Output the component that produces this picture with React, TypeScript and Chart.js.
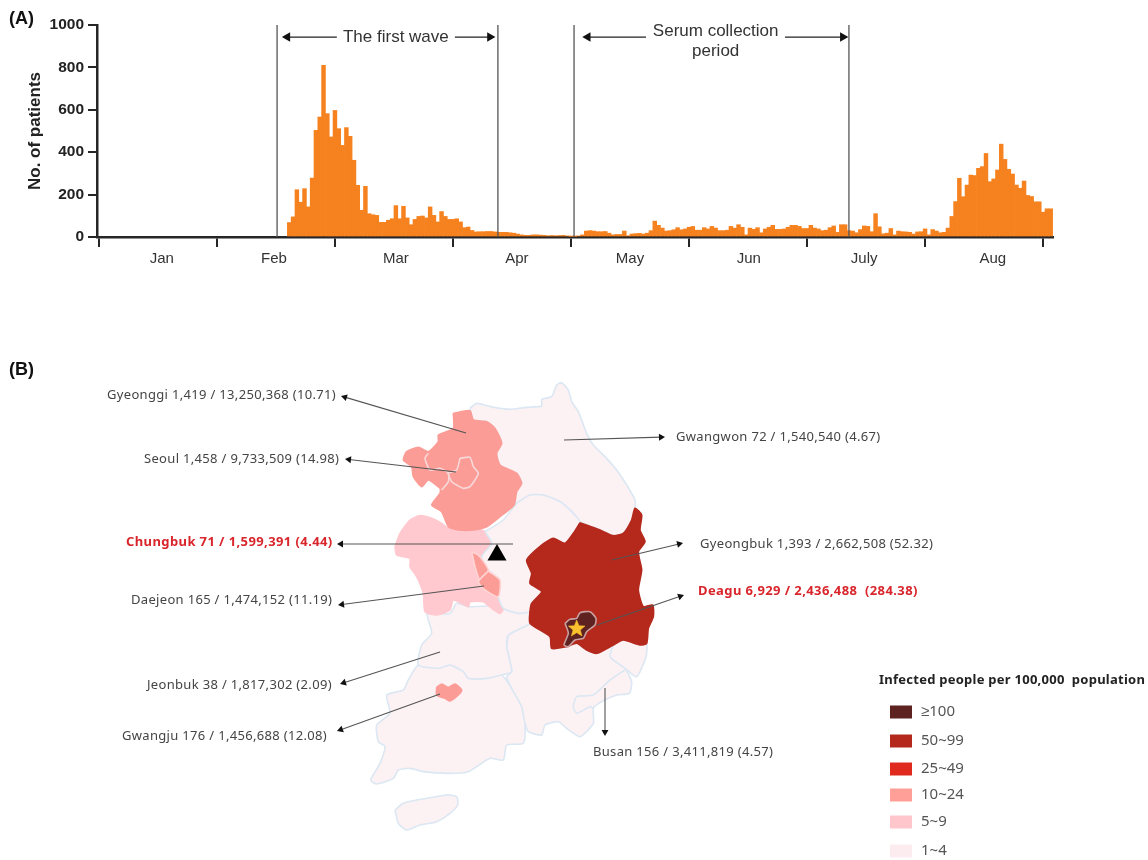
import React, { useEffect, useRef } from "react";
import { Chart, registerables } from "chart.js";

Chart.register(...registerables);

// ---------- Panel A data ----------
const firstCaseDay = 50;
const dailyPatients = [
  68, 95, 223, 164, 228, 142, 278, 503, 566, 810, 582, 472, 597, 511, 432, 516, 475, 362, 244, 126, 239, 110, 105, 102, 69,
  69, 79, 86, 148, 86, 145, 90, 58, 83, 97, 99, 90, 142, 102, 71, 120, 97, 83, 83, 86, 71, 44, 47, 31, 24,
  25, 25, 26, 26, 24, 22, 22, 22, 20, 18, 14, 10, 8, 8, 10, 10, 9, 8, 6, 7, 6, 7, 8, 5, 3, 3,
  5, 10, 28, 30, 28, 25, 25, 26, 18, 10, 12, 12, 28, 6, 14, 16, 17, 14, 18, 30,
  75, 55, 42, 28, 30, 34, 44, 34, 38, 46, 50, 32, 32, 44, 38, 50, 42, 30, 30, 32,
  50, 42, 58, 46, 10, 42, 36, 44, 20, 38, 46, 55, 36, 36, 38, 46, 55, 55, 50, 40, 40,
  55, 42, 38, 30, 32, 44, 52, 22, 58, 58, 30, 28, 20, 35, 52, 50, 25, 110, 48, 15, 18,
  40, 10, 28, 25, 24, 22, 14, 24, 25, 38, 10, 35, 28, 20, 22, 42,
  97, 167, 277, 190, 245, 292, 290, 324, 332, 394, 261, 274, 316, 438, 366, 319, 297, 245, 230, 264, 196, 191, 166, 166, 117, 133, 133,
];
const monthTickDays = [0, 31, 62, 93, 124, 155, 186, 217, 248];
const monthNames = ["Jan", "Feb", "Mar", "Apr", "May", "Jun", "July", "Aug"];
const monthLabelDays = [16.5, 46, 78, 109.8, 139.5, 170.7, 201, 234.8];
const yTickValues = [0, 200, 400, 600, 800, 1000];
const periodLines = [46.8, 104.8, 124.8, 197];
const periodArrows = [
  [[62.5, 943], [49.5, 943]],
  [[93.5, 943], [102.7, 943]],
  [[143.7, 943], [128.4, 943]],
  [[180.2, 943], [195.4, 943]],
];
const periodTexts: [string, number, number][] = [
  ["The first wave", 78, 940],
  ["Serum collection", 162, 972],
  ["period", 162, 878],
];

// ---------- Panel B data (outlines in survey units) ----------
const gangwon = [[330,115],[350,100],[400,112],[450,118],[500,112],[545,108],[545,88],[575,80],[590,45],[605,38],[625,60],[635,95],[655,125],[680,190],[700,225],[740,265],[770,300],[800,345],[825,390],[825,415],[815,450],[790,490],[760,497],[720,480],[660,455],[635,425],[600,395],[550,375],[510,375],[470,400],[460,370],[485,340],[470,310],[420,285],[410,250],[425,220],[405,175],[380,155],[340,150]];
const gyeonggi = [[280,130],[330,122],[340,150],[380,155],[405,175],[425,220],[410,250],[420,285],[470,310],[485,340],[470,365],[462,405],[420,440],[380,470],[340,480],[295,480],[265,470],[245,425],[215,405],[240,370],[240,355],[205,330],[185,350],[160,320],[155,290],[130,270],[140,245],[175,232],[205,245],[235,215],[235,195],[280,175]];
const seoul = [[300,265],[330,262],[340,290],[355,310],[330,350],[310,355],[290,345],[275,335],[265,310],[290,300]];
const incheonEdge = [[205,250],[195,265],[210,300],[240,295],[265,310],[265,335],[245,360]];
const chungnam = [[105,530],[120,490],[150,450],[180,437],[215,445],[245,460],[265,475],[295,480],[340,475],[375,485],[395,520],[365,560],[385,600],[420,630],[415,680],[430,715],[420,730],[395,715],[370,695],[330,695],[325,710],[280,690],[270,720],[230,735],[195,725],[190,670],[170,620],[150,590],[150,565],[110,555]];
const sejong = [[335,545],[355,555],[385,600],[360,630],[345,590]];
const daejeon = [[385,603],[420,630],[415,680],[375,660],[355,635]];
const chungbuk = [[375,485],[430,450],[470,400],[510,375],[550,375],[600,395],[635,425],[660,455],[640,490],[615,520],[580,505],[545,525],[500,570],[515,610],[510,640],[545,665],[515,700],[510,725],[475,730],[430,715],[415,680],[420,630],[385,600],[365,560],[395,520]];
const gyeongbuk = [[660,458],[720,480],[760,497],[790,490],[815,450],[825,415],[845,435],[840,480],[855,515],[835,545],[845,600],[835,660],[850,710],[878,705],[880,740],[865,775],[860,820],[840,825],[790,810],[760,825],[710,850],[680,840],[650,820],[620,830],[575,835],[570,800],[510,760],[510,725],[515,700],[545,665],[510,640],[515,610],[500,570],[545,525],[580,505],[615,520],[640,490]];
const daegu = [[615,760],[630,748],[650,745],[660,728],[690,725],[708,745],[705,765],[680,785],[670,805],[645,810],[625,830],[612,825],[625,790]];
const daeguStar = [[650,750],[657,767],[675,768],[661,780],[666,798],[650,788],[634,798],[639,780],[625,768],[643,767]];
const jeonbuk = [[200,730],[270,730],[290,700],[325,710],[420,705],[440,700],[510,725],[510,760],[445,795],[440,830],[455,905],[425,915],[380,925],[325,925],[310,905],[270,885],[235,895],[175,885],[185,825],[215,790],[205,750]];
const jeonnam = [[235,895],[270,885],[310,905],[325,925],[380,925],[425,915],[455,955],[485,1010],[495,1060],[490,1120],[440,1125],[430,1170],[390,1165],[325,1205],[265,1210],[190,1205],[150,1195],[115,1200],[100,1225],[50,1242],[32,1230],[60,1180],[75,1130],[55,1115],[50,1065],[90,1030],[80,975],[130,960],[145,930],[175,885]];
const gwangju = [[230,952],[245,942],[265,952],[285,942],[305,960],[295,975],[270,993],[255,985],[230,975]];
const gyeongnam = [[445,795],[510,760],[570,800],[575,835],[620,830],[650,820],[680,840],[710,850],[760,825],[750,860],[795,895],[815,935],[808,970],[770,975],[725,995],[700,1015],[700,1060],[660,1100],[620,1075],[595,1055],[555,1065],[545,1095],[505,1085],[495,1060],[485,1010],[455,955],[440,920],[455,905],[440,830]];
const ulsan = [[760,825],[790,810],[840,825],[860,820],[858,860],[830,920],[795,895],[750,860]];
const busanEdge = [[795,900],[750,930],[700,975],[650,980],[640,1010],[650,1030],[690,1010],[700,1015]];
const jeju = [[105,1320],[130,1300],[170,1290],[200,1285],[260,1275],[290,1280],[293,1305],[270,1330],[230,1355],[180,1365],[140,1380],[115,1360]];

const regionFills = {
  none: "#fcf2f4",
  low: "#ffc9cf",
  mid: "#fc9c96",
  high: "#b5281c",
  top: "#5e2320",
};
const outlineColor = "#dbe7f2";

const regionShapes: [number[][], string, string][] = [
  [jeju, regionFills.none, outlineColor],
  [jeonnam, regionFills.none, outlineColor],
  [gyeongnam, regionFills.none, outlineColor],
  [ulsan, regionFills.none, outlineColor],
  [jeonbuk, regionFills.none, outlineColor],
  [chungnam, regionFills.low, "#ffc9cf"],
  [gangwon, regionFills.none, outlineColor],
  [chungbuk, regionFills.none, outlineColor],
  [gyeonggi, regionFills.mid, regionFills.mid],
  [sejong, regionFills.mid, "#ffd5d5"],
  [daejeon, regionFills.mid, "#ffd5d5"],
  [gwangju, regionFills.mid, regionFills.mid],
  [seoul, regionFills.mid, "#f6d8d8"],
  [gyeongbuk, regionFills.high, regionFills.high],
  [daegu, regionFills.top, "#c9a0a0"],
];
const edgeLines: [number[][], string][] = [
  [incheonEdge, "#f6d8d8"],
  [busanEdge, outlineColor],
];

const leaderLines = [
  [[466, 433], [341, 396]],
  [[456, 472], [345, 459]],
  [[513, 544], [337, 544]],
  [[484, 586], [338, 605]],
  [[440, 652], [340, 684]],
  [[440, 694], [337, 731]],
  [[564, 440], [665, 437]],
  [[612, 560], [683, 543]],
  [[597, 625], [684, 595]],
  [[605, 688], [605, 736]],
];
const regionLabels: [string, number, number, boolean][] = [
  ["Gyeonggi 1,419 / 13,250,368 (10.71)", 107, 395, false],
  ["Seoul 1,458 / 9,733,509 (14.98)", 144, 459, false],
  ["Chungbuk 71 / 1,599,391 (4.44)", 126, 542, true],
  ["Daejeon 165 / 1,474,152 (11.19)", 131, 600, false],
  ["Jeonbuk 38 / 1,817,302 (2.09)", 147, 685, false],
  ["Gwangju 176 / 1,456,688 (12.08)", 122, 736, false],
  ["Gwangwon 72 / 1,540,540 (4.67)", 676, 437, false],
  ["Gyeongbuk 1,393 / 2,662,508 (52.32)", 700, 544, false],
  ["Deagu 6,929 / 2,436,488  (284.38)", 698, 591, true],
  ["Busan 156 / 3,411,819 (4.57)", 593, 752, false],
];
const legendTitle = "Infected people per 100,000  population";
const legendLabels = ["≥100", "50~99", "25~49", "10~24", "5~9", "1~4"];
const legendColors = ["#5e2320", "#b5281c", "#e02a1e", "#ff9f98", "#ffc6cc", "#fcecef"];
const legendRows = [712, 741, 769, 795, 822, 851];
const siteMarker = { x: 497, y: 555 };

const SANS = '"Liberation Sans", Arial, sans-serif';
const NOTO = '"Noto Sans", sans-serif';

const toMap = (pts: number[][]) => pts.map(([a, b]) => ({ x: 360 + a / 3, y: 370 + b / 3 }));
const closed = (pts: number[][]) => [...pts, pts[0]];

export default function App() {
  const topRef = useRef<HTMLCanvasElement>(null);
  const mapRef = useRef<HTMLCanvasElement>(null);

  useEffect(() => {
    document.body.style.margin = "0";
    const dark = "#262626";
    const isMonthTick = (v: number) => monthTickDays.includes(v);

    const periodPlugin = {
      id: "periodText",
      afterDatasetsDraw(chart: any) {
        const { ctx, scales } = chart;
        ctx.save();
        ctx.textBaseline = "middle";
        ctx.textAlign = "center";
        ctx.fillStyle = "#333";
        ctx.font = `17px ${SANS}`;
        periodTexts.forEach(([t, d, v]) => {
          ctx.fillText(t, scales.x.getPixelForValue(d), scales.y.getPixelForValue(v));
        });
        ctx.fillStyle = "#111";
        ctx.textAlign = "left";
        ctx.font = `bold 18px ${SANS}`;
        ctx.fillText("(A)", 9, 19);
        ctx.restore();
      },
    };

    const top = new Chart(topRef.current!, {
      type: "bar",
      data: {
        datasets: [
          {
            type: "bar",
            data: dailyPatients.map((y, i) => ({ x: firstCaseDay + i, y })),
            backgroundColor: "#f5821f",
            borderWidth: 0,
            barPercentage: 1,
            categoryPercentage: 1,
            order: 5,
          } as any,
          ...periodLines.map((d) => ({
            type: "line",
            data: [{ x: d, y: 0 }, { x: d, y: 1000 }],
            borderColor: "#555",
            borderWidth: 1.3,
            pointRadius: 0,
            order: 2,
          })),
          ...periodArrows.map(([a, b]) => ({
            type: "line",
            data: [{ x: a[0], y: a[1] }, { x: b[0], y: b[1] }],
            borderColor: "#222",
            borderWidth: 1.2,
            pointStyle: "triangle",
            pointRadius: [0, 5.5],
            pointBackgroundColor: "#111",
            pointBorderWidth: 0,
            pointRotation: b[0] > a[0] ? 90 : -90,
            order: 1,
          })),
        ] as any,
      },
      options: {
        animation: false,
        responsive: false,
        events: [],
        layout: { autoPadding: false, padding: { left: 0, top: 25, right: 95, bottom: 0 } },
        plugins: { legend: { display: false }, tooltip: { enabled: false } },
        scales: {
          x: {
            type: "linear",
            min: -0.5,
            max: 250.6,
            offset: false,
            border: { color: dark, width: 2.5 },
            grid: {
              offset: false,
              drawOnChartArea: false,
              tickLength: 10,
              lineWidth: 2,
              color: (c: any) => (isMonthTick(c.tick?.value) ? dark : "rgba(0,0,0,0)"),
            },
            afterBuildTicks: (axis: any) => {
              axis.ticks = [...monthTickDays, ...monthLabelDays]
                .sort((a, b) => a - b)
                .map((value) => ({ value }));
            },
            ticks: {
              autoSkip: false,
              maxRotation: 0,
              padding: 3,
              color: "#333",
              font: { family: SANS, size: 15 },
              callback: (v: any) => {
                const i = monthLabelDays.indexOf(v);
                return i >= 0 ? monthNames[i] : "";
              },
            },
            afterFit: (s: any) => {
              s.height = 53;
            },
          },
          y: {
            type: "linear",
            min: 0,
            max: 1000,
            border: { color: dark, width: 2.5 },
            grid: { drawOnChartArea: false, tickLength: 9, lineWidth: 2, color: dark },
            afterBuildTicks: (axis: any) => {
              axis.ticks = yTickValues.map((value) => ({ value }));
            },
            ticks: {
              padding: 4,
              color: "#222",
              font: { family: SANS, size: 15.5, weight: "bold" },
              callback: (v: any) => String(v),
            },
            title: {
              display: true,
              text: "No. of patients",
              color: "#222",
              font: { family: SANS, size: 17, weight: "bold" },
              padding: { top: 25, bottom: 0 },
            },
            afterFit: (s: any) => {
              s.width = 97;
            },
          },
        },
      } as any,
      plugins: [periodPlugin],
    });

    const mapPlugin = {
      id: "mapText",
      afterDatasetsDraw(chart: any) {
        const { ctx, scales } = chart;
        const px = (v: number) => scales.x.getPixelForValue(v);
        const py = (v: number) => scales.y.getPixelForValue(v);
        ctx.save();
        ctx.textBaseline = "middle";
        ctx.textAlign = "left";
        regionLabels.forEach(([t, x, y, hot]) => {
          ctx.font = `${hot ? "bold " : ""}13px ${NOTO}`;
          ctx.letterSpacing = hot ? "0.4px" : "0.32px";
          ctx.fillStyle = hot ? "#d9262c" : "#444";
          ctx.fillText(t, px(x), py(y));
        });
        ctx.letterSpacing = "0.25px";
        ctx.font = `bold 13px ${NOTO}`;
        ctx.fillStyle = "#222";
        ctx.fillText(legendTitle, px(879), py(680));
        ctx.letterSpacing = "0px";
        ctx.font = `15px ${NOTO}`;
        ctx.fillStyle = "#555";
        legendLabels.forEach((t, i) => ctx.fillText(t, px(921), py(legendRows[i])));
        ctx.fillStyle = "#111";
        ctx.font = `bold 18px ${SANS}`;
        ctx.fillText("(B)", px(9), py(370));
        ctx.restore();
      },
    };

    const ARROW_R = 4;
    const mapDatasets: any[] = [
      ...regionShapes.map(([pts, fill, stroke]) => ({
        data: toMap(closed(pts)),
        backgroundColor: fill,
        borderColor: stroke,
        borderWidth: 1.6,
        fill: "shape",
        tension: 0.2,
        pointRadius: 0,
      })),
      {
        data: toMap(closed(daeguStar)),
        backgroundColor: "#f9c12e",
        borderColor: "#f9c12e",
        borderWidth: 0.5,
        fill: "shape",
        tension: 0,
        pointRadius: 0,
      },
      ...edgeLines.map(([pts, c]) => ({
        data: toMap(pts),
        borderColor: c,
        borderWidth: 1.6,
        fill: false,
        tension: 0.2,
        pointRadius: 0,
      })),
      ...leaderLines.map(([a, b]) => {
        const len = Math.hypot(b[0] - a[0], b[1] - a[1]);
        const ux = (b[0] - a[0]) / len;
        const uy = (b[1] - a[1]) / len;
        return {
          data: [{ x: a[0], y: a[1] }, { x: b[0] - ux * ARROW_R, y: b[1] - uy * ARROW_R }],
          borderColor: "#555",
          borderWidth: 1.1,
          fill: false,
          pointStyle: "triangle",
          pointRadius: [0, ARROW_R],
          pointBackgroundColor: "#111",
          pointBorderWidth: 0,
          pointRotation: (Math.atan2(b[0] - a[0], a[1] - b[1]) * 180) / Math.PI,
        };
      }),
      {
        data: [siteMarker],
        pointStyle: "triangle",
        pointRadius: 11,
        pointBackgroundColor: "#000",
        pointBorderWidth: 0,
        showLine: false,
        fill: false,
      },
      ...legendRows.map((y, i) => ({
        data: [{ x: 890, y }, { x: 912, y }],
        borderColor: legendColors[i],
        borderWidth: 13,
        fill: false,
        pointRadius: 0,
      })),
    ];
    mapDatasets.forEach((d, i) => (d.order = -i));

    const map = new Chart(mapRef.current!, {
      type: "line",
      data: { datasets: mapDatasets },
      options: {
        animation: false,
        responsive: false,
        events: [],
        layout: { autoPadding: false, padding: 0 },
        plugins: { legend: { display: false }, tooltip: { enabled: false } },
        scales: {
          x: { type: "linear", min: 0, max: 1148, display: false },
          y: { type: "linear", min: 290, max: 860, reverse: true, display: false },
        },
      } as any,
      plugins: [mapPlugin],
    });

    return () => {
      top.destroy();
      map.destroy();
    };
  }, []);

  const soft = { position: "absolute", left: 0, filter: "blur(0.4px)" } as const;
  return (
    <div style={{ position: "relative", width: 1148, height: 860, background: "#fff" }}>
      <canvas ref={topRef} width={1148} height={290} style={{ ...soft, top: 0 }} />
      <canvas ref={mapRef} width={1148} height={570} style={{ ...soft, top: 290 }} />
    </div>
  );
}
